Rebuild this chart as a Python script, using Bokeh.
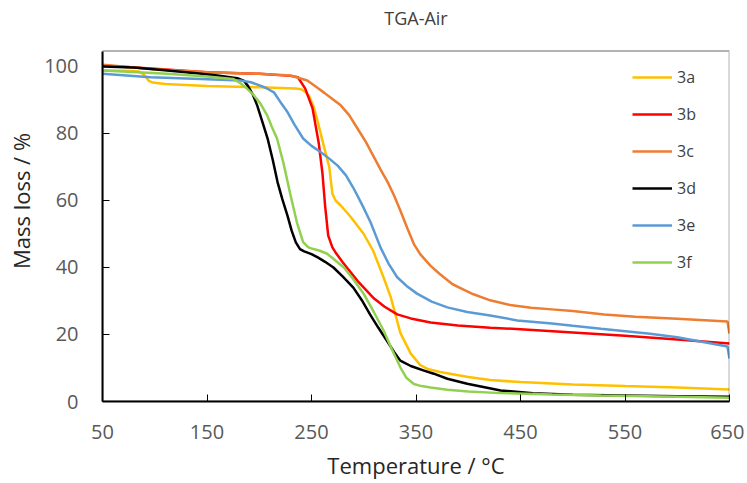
from bokeh.plotting import figure
from bokeh.models import Range1d, FixedTicker, Legend, LegendItem, Label, BoxAnnotation
from bokeh.embed import file_html
from bokeh.resources import INLINE

title_text = "TGA-Air"
series_names = ["3a", "3b", "3c", "3d", "3e", "3f"]
series_colors = ["#FFC000", "#FF0000", "#ED7D31", "#000000", "#5B9BD5", "#92D050"]

t_3a = [50, 70, 85, 90, 94, 98, 110, 150, 200, 235, 240, 244, 248, 252, 256, 262, 267, 270, 273, 278,
        287, 300, 309, 319, 326, 335, 345, 354, 362, 373, 400, 421, 450, 500, 550, 600, 650]
m_3a = [98.8, 98.7, 98.5, 97.5, 95.8, 95.2, 94.8, 94.2, 93.8, 93.4, 93.2, 92.5, 91, 88, 83.5, 76, 70, 62, 60, 58.5,
        55.3, 50, 45, 37, 31, 20.5, 14.3, 10.9, 9.6, 8.8, 7.3, 6.4, 5.8, 5.1, 4.6, 4.2, 3.6]

t_3b = [50, 100, 150, 200, 230, 237, 244, 251, 257, 260.5, 263, 266, 270, 273, 280, 294, 309, 320, 332, 345,
        364, 390, 421, 450, 500, 550, 600, 650]
m_3b = [100.3, 99.3, 98.3, 97.8, 97.2, 96.8, 93.4, 87.5, 77, 68, 58.5, 49.5, 46, 44.5, 41.5, 36, 31, 28.3, 26, 24.8,
        23.6, 22.7, 22, 21.6, 20.6, 19.6, 18.5, 17.3]

t_3c = [50, 100, 150, 200, 230, 246, 255, 262, 270, 278, 286, 294, 302, 309, 316, 323, 329, 335, 342, 348,
        354, 364, 373, 385, 395, 405, 421, 440, 460, 480, 500, 530, 560, 600, 648, 650]
m_3c = [100.5, 99.2, 98.3, 97.8, 97.3, 95.8, 93.8, 92.2, 90.3, 88.4, 85.5, 81.5, 77.5, 73.4, 69.3, 65.4, 61.5, 57, 51.5, 47,
        44, 40.5, 38, 35, 33.5, 32, 30.2, 28.8, 28, 27.5, 27, 26, 25.3, 24.7, 23.9, 20.3]

t_3d = [50, 80, 112, 140, 160, 179, 185, 189, 194, 198, 203, 208, 213, 217.5, 222, 227, 231, 235, 239, 243,
        250, 256, 263, 271, 280, 290, 298, 306, 314, 322, 329, 335, 345, 357, 367, 380, 399, 431, 462, 500,
        550, 600, 650]
m_3d = [100, 99.7, 98.8, 98, 97.3, 96.5, 95.8, 94.3, 91.5, 88.4, 83.5, 78.5, 72, 65.5, 60.5, 55.5, 51, 47.5, 45.5, 44.8,
        44, 43, 41.7, 40, 37.3, 34, 30.3, 26, 22, 18.2, 14.8, 12.2, 10.6, 9.3, 8.3, 6.8, 5.3, 3.3, 2.5, 2.0,
        1.8, 1.6, 1.4]

t_3e = [50, 96, 144, 182, 192, 201, 207, 214, 220, 227, 234, 242, 250, 259, 267, 275, 283, 290, 298, 306.5,
        316, 324, 332, 341, 351, 365, 380, 399, 421, 447, 480, 500, 527, 574, 600, 648, 650]
m_3e = [97.8, 96.8, 96.3, 95.8, 95.3, 94.3, 93.5, 92.3, 89.5, 86.4, 82.5, 78.5, 76.3, 74.4, 72.5, 70.4, 67.5, 63.8, 59, 53.5,
        46, 41, 37.1, 34.5, 32.2, 29.8, 28.1, 26.7, 25.7, 24.2, 23.3, 22.6, 21.7, 20.2, 19.2, 16.4, 12.8]

t_3f = [50, 112, 150, 175, 182, 188, 194.5, 201, 207.6, 212, 217, 223, 230, 236, 242, 247, 252, 258, 265, 272,
        281, 290, 300, 310, 319, 327, 335, 341, 348, 355, 364, 380, 400, 431, 480, 527, 600, 650]
m_3f = [98.8, 97.8, 97, 96.3, 95, 93.5, 91.5, 89, 85.4, 82, 78.5, 71.4, 61.5, 53.5, 47.6, 46, 45.5, 45, 44.1, 42.3,
        40, 36.5, 32.1, 26.5, 21.2, 15.5, 10.2, 7, 5.2, 4.6, 4.2, 3.5, 3, 2.5, 2.1, 1.8, 1.4, 1.1]

x_ticks = [50, 150, 250, 350, 450, 550, 650]
y_ticks = [0, 20, 40, 60, 80, 100]

temps = [t_3a, t_3b, t_3c, t_3d, t_3e, t_3f]
masses = [m_3a, m_3b, m_3c, m_3d, m_3e, m_3f]

X_MIN, X_MAX = 50, 650
Y_MIN, Y_MAX = 0, 104.6      # plot-box extent
Y_VIEW = 119.7               # extra room above the box for the title
TITLE_Y = 114.6

FONT = "Open Sans"

p = figure(width=744, height=482, output_backend="svg", toolbar_location=None,
           x_range=Range1d(X_MIN, X_MAX), y_range=Range1d(Y_MIN, Y_VIEW),
           min_border_left=102, min_border_right=15, min_border_top=0, min_border_bottom=81)
p.background_fill_color = "white"
p.border_fill_color = "white"
p.outline_line_color = None
p.xgrid.visible = False
p.ygrid.visible = False

for ax in (p.xaxis[0], p.yaxis[0]):
    ax.axis_line_color = "black"
    ax.axis_line_width = 2
    ax.major_tick_line_color = "black"
    ax.major_tick_line_width = 1
    ax.major_tick_in = 7
    ax.major_tick_out = 0
    ax.minor_tick_line_color = None
    ax.major_label_text_font = FONT
    ax.major_label_text_font_size = "20px"
    ax.major_label_text_color = "#595959"
    ax.axis_label_text_font = FONT
    ax.axis_label_text_font_style = "normal"
    ax.axis_label_text_color = "#262626"

p.yaxis[0].bounds = (Y_MIN, Y_MAX)
p.xaxis[0].ticker = FixedTicker(ticks=x_ticks)
p.yaxis[0].ticker = FixedTicker(ticks=y_ticks)
p.xaxis[0].axis_label = "Temperature / °C"
p.yaxis[0].axis_label = "Mass loss / %"
p.xaxis[0].axis_label_text_font_size = "22px"
p.yaxis[0].axis_label_text_font_size = "22px"
p.xaxis[0].major_label_standoff = 23
p.yaxis[0].major_label_standoff = 24
p.xaxis[0].axis_label_standoff = 8
p.yaxis[0].axis_label_standoff = 5

# plot box border
box = BoxAnnotation(left=X_MIN, right=X_MAX, bottom=Y_MIN, top=Y_MAX,
                    fill_alpha=0, line_color="black", line_width=2)
p.add_layout(box)

items = []
for name, color, t, m in zip(series_names, series_colors, temps, masses):
    r = p.line(t, m, line_color=color, line_width=2.5)
    items.append(LegendItem(label=name, renderers=[r]))

legend = Legend(items=items, location=(530, 128), padding=0, margin=0, spacing=15,
                glyph_width=40, glyph_height=20, label_height=20, label_standoff=5,
                label_text_font=FONT, label_text_font_size="16px", label_text_color="#404040",
                border_line_color=None, background_fill_alpha=0)
p.add_layout(legend)

title = Label(x=(X_MIN + X_MAX) / 2, y=TITLE_Y, text=title_text, text_align="center",
              text_baseline="middle", text_font=FONT, text_font_size="18px", text_color="#404040")
p.add_layout(title)

open("out.html", "w").write(file_html(p, INLINE))
